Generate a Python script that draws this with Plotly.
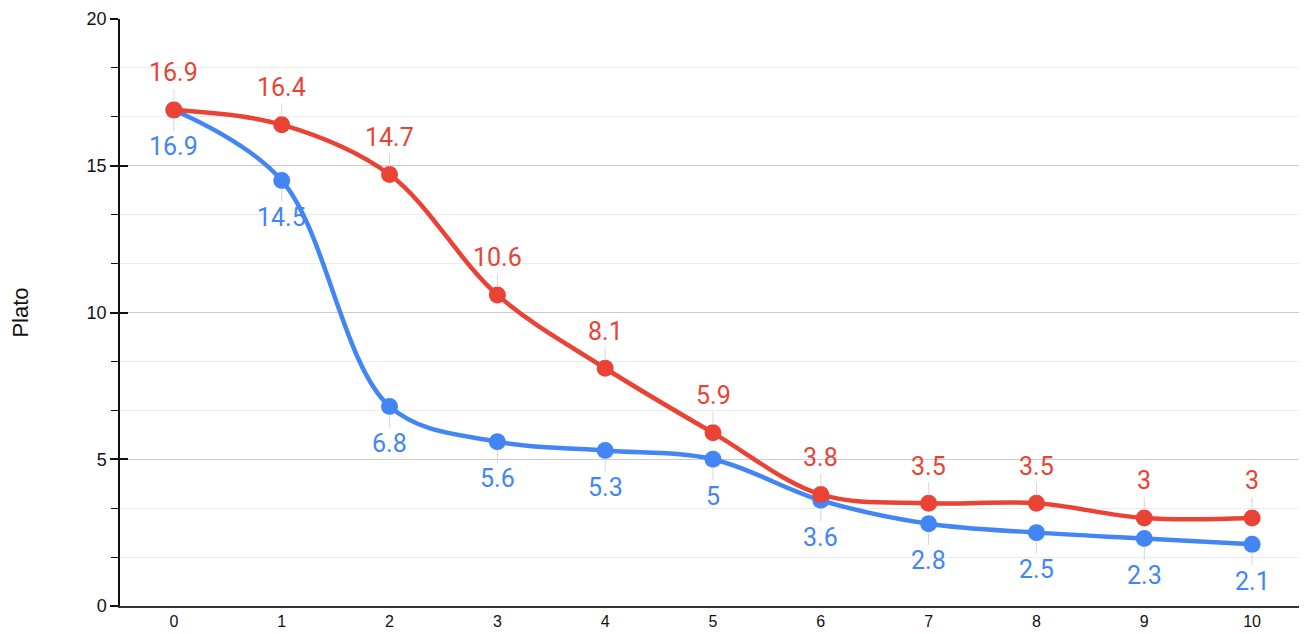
import plotly.graph_objects as go

x_vals = [0, 1, 2, 3, 4, 5, 6, 7, 8, 9, 10]
blue_vals = [16.9, 14.5, 6.8, 5.6, 5.3, 5, 3.6, 2.8, 2.5, 2.3, 2.1]
red_vals = [16.9, 16.4, 14.7, 10.6, 8.1, 5.9, 3.8, 3.5, 3.5, 3, 3]
y_tick_vals = [0, 5, 10, 15, 20]
y_minor_vals = [5 / 3 * k for k in range(13) if k % 3 != 0]
y_title = "Plato"

BLUE = "#4285F4"
RED = "#EA4335"
AX = "#111111"
FAM = "Liberation Sans"

fig = go.Figure()
for vals, col in [(blue_vals, BLUE), (red_vals, RED)]:
    fig.add_trace(go.Scatter(
        x=x_vals, y=vals, mode="lines+markers",
        line=dict(color=col, width=4.5, shape="spline", smoothing=1),
        marker=dict(color=col, size=17),
        hoverinfo="skip", showlegend=False,
    ))

def fmt(v):
    return "%g" % v

for xv, yv in zip(x_vals, red_vals):
    fig.add_annotation(x=xv, y=yv, text=fmt(yv), showarrow=True, ax=0, ay=-37,
                       arrowhead=0, arrowwidth=1, arrowcolor="#d6d6d6", standoff=8,
                       font=dict(family="Roboto", size=25, color=RED))
for xv, yv in zip(x_vals, blue_vals):
    fig.add_annotation(x=xv, y=yv, text=fmt(yv), showarrow=True, ax=0, ay=37,
                       arrowhead=0, arrowwidth=1, arrowcolor="#d6d6d6", standoff=8,
                       font=dict(family="Roboto", size=25, color=BLUE))

# helper invisible traces so the overlay axes are drawn
for ax_name in ["y2", "y3"]:
    fig.add_trace(go.Scatter(x=[x_vals[0]], y=[y_tick_vals[0]], yaxis=ax_name, mode="markers",
                             marker=dict(opacity=0), hoverinfo="skip", showlegend=False))

fig.update_layout(
    width=1299, height=626,
    margin=dict(l=112, r=1, t=11, b=28),
    plot_bgcolor="white", paper_bgcolor="white",
    font=dict(family=FAM, size=18, color=AX),
    yaxis=dict(
        range=[0, 20], tickvals=y_tick_vals, showgrid=True, gridcolor="#cccccc",
        zeroline=False, showline=True, linecolor=AX, linewidth=1.5,
        ticks="outside", ticklen=8, tickcolor=AX, tickwidth=1.5,
        tickfont=dict(family=FAM, size=18, color=AX), automargin=False,
        title=dict(text=y_title, font=dict(family=FAM, size=22, color=AX), standoff=54),
    ),
    yaxis2=dict(overlaying="y", side="left", range=[0, 20], tickvals=y_minor_vals,
                ticks="outside", ticklen=8, tickcolor=AX, tickwidth=1,
                showticklabels=False, showgrid=True, gridcolor="#ececec",
                zeroline=False, showline=False, automargin=False),
    yaxis3=dict(overlaying="y", side="left", range=[0, 20], tickvals=y_tick_vals,
                ticks="inside", ticklen=8, tickcolor=AX, tickwidth=1.5,
                showticklabels=False, showgrid=False, zeroline=False, showline=False,
                automargin=False),
    xaxis=dict(
        range=[-0.5, 10.5], tickvals=x_vals, showgrid=False, zeroline=False,
        showline=True, linecolor="#333", linewidth=1.5, ticks="",
        tickfont=dict(family=FAM, size=16, color=AX), automargin=False,
    ),
)

fig.write_html("out.html")
